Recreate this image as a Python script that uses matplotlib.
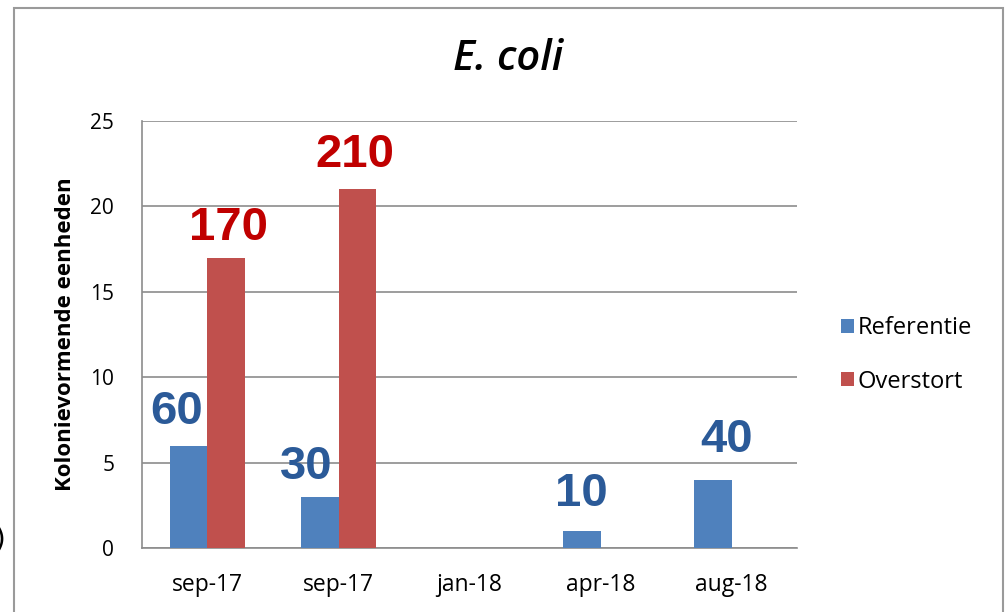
import numpy as np
import matplotlib
matplotlib.use('Agg')
import matplotlib.pyplot as plt
from matplotlib.patches import Rectangle

# data
cats = ['sep-17', 'sep-17', 'jan-18', 'apr-18', 'aug-18']
referentie = [6, 3, 0, 1, 4]
overstort = [17, 21, 0, 0, 0]
ref_labels = ['60', '30', '', '10', '40']
ovs_labels = ['170', '210', '', '', '']

# label offsets (points) -- text boxes sit a bit freely in the original
ref_off = [(-8.6, 23.8), (-10, 21.6), (0, 0), (0, 26.6), (10, 28.8)]
ovs_off = [(2, 21), (-1.5, 24.5), (0, 0), (0, 0), (0, 0)]

c_ref = '#4F81BD'
c_ovs = '#C0504D'
c_ref_txt = '#2B5A98'
c_ovs_txt = '#C00000'
gridc = '#8C8C8C'

fig = plt.figure(figsize=(10.07, 6.12), dpi=100)
ax = fig.add_axes([0.141, 0.1046, 0.6505, 0.6977])

x = np.arange(len(cats))
w = 0.285
b1 = ax.bar(x - w/2, referentie, w, color=c_ref, label='Referentie', zorder=3)
b2 = ax.bar(x + w/2, overstort, w, color=c_ovs, label='Overstort', zorder=3)

lab_font = dict(family='Liberation Sans', weight='bold', size=34)
for i in range(len(cats)):
    if ref_labels[i]:
        ax.annotate(ref_labels[i], (x[i] - w/2, referentie[i]), xytext=ref_off[i],
                    textcoords='offset points', ha='center', va='center',
                    color=c_ref_txt, **lab_font)
    if ovs_labels[i]:
        ax.annotate(ovs_labels[i], (x[i] + w/2, overstort[i]), xytext=ovs_off[i],
                    textcoords='offset points', ha='center', va='center',
                    color=c_ovs_txt, **lab_font)

ax.set_xlim(-0.5, len(cats) - 0.5)
ax.set_ylim(0, 25)
ax.set_yticks(range(0, 26, 5))
ax.set_xticks(x)
ax.set_xticklabels(cats, fontsize=16.5, family='Open Sans')
ax.tick_params(axis='x', length=0, pad=18)
ax.tick_params(axis='y', length=0, labelsize=15, pad=20)
for t in ax.get_yticklabels():
    t.set_family('Open Sans')
ax.grid(axis='y', color=gridc, linewidth=1.2, zorder=0)
for s in ['top', 'right']:
    ax.spines[s].set_visible(False)
for s in ['left', 'bottom']:
    ax.spines[s].set_color(gridc)
    ax.spines[s].set_linewidth(1.2)

ax.set_ylabel('Kolonievormende eenheden', fontsize=16, fontweight='bold',
              family='Open Sans', labelpad=10)

fig.text(0.505, 0.903, 'E. coli', ha='center', va='center', fontsize=30,
         style='italic', fontweight='semibold', family='Open Sans')

fig.legend(handles=[b1, b2], loc='center left', bbox_to_anchor=(0.814, 0.42),
           frameon=False, handlelength=0.55, handleheight=0.55,
           handletextpad=0.15, labelspacing=1.25, prop={'family': 'Open Sans', 'size': 17})

# outer chart frame
fig.patches.append(Rectangle((0.0139, -0.05), 0.982, 1.037, transform=fig.transFigure,
                             fill=False, edgecolor='#9A9A9A', linewidth=1.5))
fig.text(0.0, 0.118, ')', ha='center', va='center', fontsize=20)

plt.savefig('out.png', dpi=100)
